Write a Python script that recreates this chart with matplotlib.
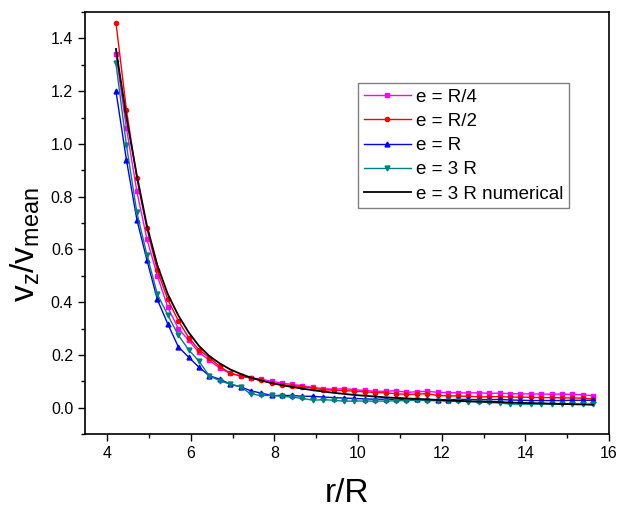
import matplotlib
matplotlib.use('Agg')
import matplotlib.pyplot as plt

plt.rcParams['font.family'] = ['Liberation Sans', 'DejaVu Sans']
plt.rcParams['mathtext.fontset'] = 'custom'
plt.rcParams['mathtext.rm'] = 'Liberation Sans'
plt.rcParams['mathtext.it'] = 'Liberation Sans'

# radial positions r/R
r = [4.21, 4.46, 4.71, 4.95, 5.20, 5.45, 5.70, 5.95, 6.19, 6.44,
     6.69, 6.94, 7.19, 7.43, 7.68, 7.93, 8.18, 8.43, 8.67, 8.92,
     9.17, 9.42, 9.67, 9.91, 10.16, 10.41, 10.66, 10.91, 11.15, 11.40,
     11.65, 11.90, 12.15, 12.39, 12.64, 12.89, 13.14, 13.39, 13.63, 13.88,
     14.13, 14.38, 14.63, 14.87, 15.12, 15.37, 15.62]

e_quarter = [1.34, 1.06, 0.82, 0.64, 0.50, 0.38, 0.30, 0.255, 0.21, 0.18,
             0.15, 0.13, 0.12, 0.113, 0.108, 0.10, 0.093, 0.088, 0.083, 0.077,
             0.072, 0.070, 0.072, 0.068, 0.065, 0.062, 0.062, 0.064, 0.058, 0.060,
             0.062, 0.058, 0.057, 0.056, 0.056, 0.056, 0.054, 0.055, 0.053, 0.052,
             0.052, 0.051, 0.051, 0.051, 0.050, 0.049, 0.045]

e_half = [1.46, 1.13, 0.87, 0.68, 0.52, 0.41, 0.33, 0.265, 0.22, 0.19,
          0.156, 0.131, 0.12, 0.112, 0.103, 0.093, 0.087, 0.083, 0.080, 0.073,
          0.068, 0.066, 0.065, 0.062, 0.060, 0.057, 0.056, 0.053, 0.050, 0.051,
          0.053, 0.046, 0.045, 0.044, 0.043, 0.041, 0.041, 0.042, 0.040, 0.040,
          0.039, 0.038, 0.038, 0.037, 0.037, 0.036, 0.033]

e_one = [1.20, 0.94, 0.713, 0.56, 0.41, 0.317, 0.231, 0.191, 0.154, 0.121,
         0.108, 0.089, 0.079, 0.064, 0.055, 0.046, 0.046, 0.046, 0.043, 0.043,
         0.040, 0.038, 0.036, 0.035, 0.033, 0.032, 0.032, 0.031, 0.032, 0.031,
         0.031, 0.030, 0.030, 0.031, 0.031, 0.030, 0.030, 0.031, 0.029, 0.028,
         0.027, 0.027, 0.027, 0.027, 0.028, 0.028, 0.028]

e_three = [1.305, 0.996, 0.74, 0.58, 0.43, 0.351, 0.275, 0.219, 0.177, 0.121,
           0.102, 0.089, 0.079, 0.052, 0.046, 0.046, 0.043, 0.040, 0.035, 0.028,
           0.030, 0.028, 0.024, 0.025, 0.025, 0.025, 0.025, 0.026, 0.027, 0.028,
           0.027, 0.026, 0.025, 0.024, 0.023, 0.022, 0.020, 0.017, 0.014, 0.013,
           0.013, 0.014, 0.013, 0.013, 0.013, 0.013, 0.013]

e_three_num = [1.36, 1.10, 0.88, 0.69, 0.54, 0.43, 0.35, 0.285, 0.235, 0.196,
               0.168, 0.145, 0.128, 0.114, 0.103, 0.093, 0.085, 0.078, 0.072, 0.066,
               0.061, 0.056, 0.052, 0.048, 0.045, 0.042, 0.039, 0.037, 0.035, 0.033,
               0.031, 0.029, 0.027, 0.026, 0.024, 0.023, 0.022, 0.021, 0.019, 0.018,
               0.017, 0.016, 0.015, 0.014, 0.013, 0.012, 0.011]

labels = ['e = R/4', 'e = R/2', 'e = R', 'e = 3 R', 'e = 3 R numerical']

fig = plt.figure(figsize=(6.22, 5.08), dpi=100)
ax = fig.add_axes([85 / 622, 74 / 508, 524 / 622, 422 / 508])

ax.plot(r, e_quarter, color='#ff00ff', marker='s', ms=3, lw=1, label=labels[0])
ax.plot(r, e_half, color='#ff0000', marker='o', ms=3, lw=1, label=labels[1])
ax.plot(r, e_one, color='#0000ff', marker='^', ms=3.5, lw=1, label=labels[2])
ax.plot(r, e_three, color='#008080', marker='v', ms=3.5, lw=1, label=labels[3])
ax.plot(r, e_three_num, color='black', lw=1.3, label=labels[4])

ax.set_xlim(3.47, 16)
ax.set_ylim(-0.1, 1.5)
ax.set_xticks([4, 6, 8, 10, 12, 14, 16])
ax.set_xticks([5, 7, 9, 11, 13, 15], minor=True)
ax.set_yticks([0.0, 0.2, 0.4, 0.6, 0.8, 1.0, 1.2, 1.4])
ax.set_yticks([-0.1, 0.1, 0.3, 0.5, 0.7, 0.9, 1.1, 1.3, 1.5], minor=True)
ax.set_yticklabels(['0.0', '0.2', '0.4', '0.6', '0.8', '1.0', '1.2', '1.4'])
ax.tick_params(which='major', direction='out', length=5, width=1, labelsize=11.5)
ax.tick_params(which='minor', direction='out', length=3, width=1)
for s in ax.spines.values():
    s.set_linewidth(1.2)

ax.set_xlabel('r/R', fontsize=24)
ax.xaxis.set_label_coords(0.5, -0.105)
ax.set_ylabel(r'$\mathregular{v_z/v_{mean}}$', fontsize=24)
ax.yaxis.set_label_coords(-0.082, 0.45)

leg = ax.legend(loc='upper left', bbox_to_anchor=(0.521, 0.832), borderaxespad=0,
                fancybox=False, edgecolor='#808080', fontsize=13.5, numpoints=1,
                handlelength=2.5, handletextpad=0.3, labelspacing=0.38, borderpad=0.3)
leg.get_frame().set_linewidth(1)
leg.get_frame().set_alpha(1)

fig.savefig('out.png', dpi=100)
